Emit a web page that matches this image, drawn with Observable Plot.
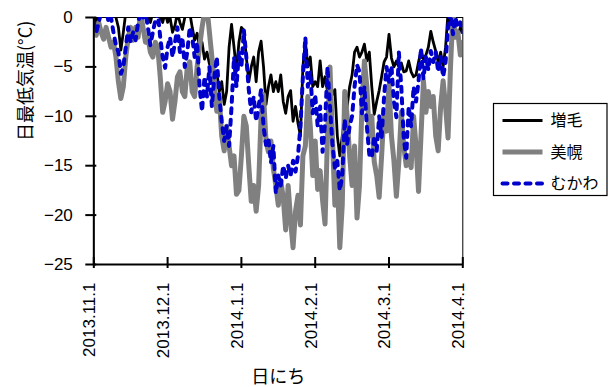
<!DOCTYPE html>
<html>
<head>
<meta charset="utf-8">
<script src="https://cdn.jsdelivr.net/npm/d3@7"></script>
<script src="https://cdn.jsdelivr.net/npm/@observablehq/plot@0.6"></script>
<style>
  html, body { margin: 0; padding: 0; background: #fff; }
  #chart { width: 611px; height: 387px; }
</style>
</head>
<body>
<div id="chart"></div>
<script>
// Daily minimum temperature (°C), 2013-11-01 .. 2014-04-01, one value per day
const seriesNames = ["増毛", "美幌", "むかわ"];
const seriesColors = ["#000000", "#808080", "#0000cc"];

const tickDays = [0, 30, 60, 90, 120, 150];
const tickLabels = ["2013.11.1", "2013.12.1", "2014.1.1", "2014.2.1", "2014.3.1", "2014.4.1"];
const yTicks = [0, -5, -10, -15, -20, -25];

const mashike = [
  0.5, -0.5, 1, 0.5, 1.5, 0.5, 1, 2, 0.5, 0, -1, -3.3, -1.5, 0.5, 1.5, 1, 2, 1, 0.5, 1.5,
  0.5, 1, 0, -0.5, 0.5, 1, 0.5, 0, -0.5, 0.5, -0.5, 0, -1.5, -0.8, 0.5, -0.5, -1.2, 0, 1, 0.5,
  -1, -2.3, -1.6, -3, -2.5, -4.2, -3.5, -4.7, -4, -5.5, -5.5, -7.5, -6.5, -8.8, -7.5, -3, -0.7, -3, -5.4, -2.5,
  -1, -1.3, -4, -6.5, -5, -4, -6.5, -3.5, -2.4, -5, -8.8, -7, -5.8, -7.5, -6.5, -7.5, -5.8, -8.5, -9.7, -8,
  -7.4, -10.5, -9, -10.7, -12, -5, -2.4, -5, -4, -7, -6.5, -7, -4.4, -7, -6, -7.5, -7, -7.8, -7.3, -12,
  -14, -12, -10, -9, -7, -5.8, -3.5, -3, -4, -3.5, -2.7, -4.4, -3.5, -7, -9.8, -8.5, -7.4, -6, -4.5, -4,
  -1.7, -4.1, -5, -4.4, -5, -4.6, -5.5, -5.4, -4.4, -5.5, -6, -5.8, -4.5, -3.4, -4.2, -3.8, -3, -1.4, -2.5, -3.4,
  -4.5, -3.5, -5, -3, 0.5, -0.5, 1, -1, -2, -1, -1.5
];

const bihoro = [
  -1, -1.8, -0.5, -1.5, -2.2, -1, -2, -3, -2.5, -4, -6.5, -8.2, -7, -4, -2, -1, -2.3, -1, -2, 0.5,
  -1, -2.5, -2, -3.5, -4, -2.5, -3, -6, -9.6, -8.5, -6.7, -7.5, -10.3, -8.5, -6, -5.5, -7.5, -8, -5, -4.5,
  -7.5, -8, -5, -3, -1, 0.5, 1, -1.5, -4, -7, -9.5, -8, -12, -13.5, -11, -13, -15, -14, -17.9, -17.5,
  -14, -10, -11, -15, -18.6, -17, -19.6, -17, -10, -7.8, -12.5, -13.6, -12.5, -15.3, -17, -19, -16.5, -18.2, -21.5, -17,
  -20.5, -23.3, -19.6, -18, -21, -14, -13, -8, -11, -16, -12.5, -17.4, -15.5, -18.5, -20.9, -12, -5, -12, -19, -16,
  -23.3, -19, -7.5, -10, -14, -17, -13, -20.3, -17, -9, -4.4, -7, -12, -10, -14.6, -16, -18.2, -14, -9.4, -11.5,
  -6.8, -12, -14.5, -18.1, -14.6, -9.6, -13, -15, -14, -15.2, -10, -13, -17.6, -12, -6.4, -9.6, -7.5, -9, -8, -12,
  -13.5, -9, -6.4, -9, -12.2, -5, 0.5, -2, -1.5, -3.8, -2.5
];

const mukawa = [
  -0.5, -1.5, -0.5, 0.5, 0.5, 1, -0.5, 0, -1.5, -2.8, -3.5, -5.7, -5, -3, -1, -2.5, -1.5, -2.3, -0.5, 0.5,
  0, 0.5, -1, -2.8, -1.5, -0.3, 0.5, -2, -4, -5.1, -3, -2, -4, -2.5, -1, -3.5, -2, -5, -3.5, -1,
  -2, -4, -2.5, -7, -9.5, -6, -8, -5, -9, -6, -4, -8, -10.5, -12.5, -11, -13, -9, -4, -7, -3.5,
  -5, -1.3, -4, -7.3, -9.6, -8, -10.5, -9, -7.3, -11, -12.9, -12.3, -14.7, -13, -17.8, -16, -17, -15, -16.3, -15,
  -16, -14.5, -15.6, -14, -11, -6, -2, -7, -5.5, -9.7, -7.8, -11, -9, -13.6, -10.7, -5, -9, -12.8, -15.2, -14.5,
  -17.5, -16, -10.3, -12.8, -11, -10, -7, -4.8, -5.5, -9.7, -7, -11, -13.9, -14.2, -12, -13.5, -10, -12.2, -8, -5,
  -6.5, -4.9, -8.5, -10.1, -3.5, -7, -12.2, -14.2, -9, -11, -7, -8.5, -6.5, -3.1, -6.2, -4, -5.3, -3.4, -4.5, -3.5,
  -5.5, -4, -6, -4.5, -1, 0.5, -1.7, 0, -1, -0.5, -1.5
];

const seriesData = [mashike, bihoro, mukawa];

// layout
const W = 611, H = 387;
const M = { top: 17, right: 148.7, bottom: 123, left: 93.3 };
const innerW = W - M.left - M.right;
const innerH = H - M.top - M.bottom;

const latin = "'Liberation Sans', Arial, sans-serif";
const cjk = "'Noto Sans CJK JP', sans-serif";

// per-series line styles (width, dash)
const lineStyles = [
  { strokeWidth: 2.8 },
  { strokeWidth: 5 },
  { strokeWidth: 4, strokeDasharray: "5,6.5" }
];

const lineMarks = seriesData.map((vals, k) =>
  Plot.lineY(vals, {
    x: (d, i) => i,
    y: d => d,
    stroke: seriesColors[k],
    strokeLinejoin: "round",
    strokeLinecap: "round",
    clip: true,
    ...lineStyles[k]
  })
);

const chart = Plot.plot({
  width: W,
  height: H,
  marginTop: M.top,
  marginRight: M.right,
  marginBottom: M.bottom,
  marginLeft: M.left,
  style: { fontFamily: latin, fontSize: "17px", color: "#000", background: "#fff", overflow: "visible" },
  x: { domain: [0, 150], axis: null },
  y: { domain: [-25, 0], axis: null },
  marks: [
    Plot.frame({ stroke: "#000", strokeWidth: 1 }),
    ...lineMarks,
    Plot.ruleX([0], { stroke: "#000", strokeWidth: 2 }),
    Plot.ruleY([-25], { stroke: "#000", strokeWidth: 2 }),
    Plot.axisY({
      ticks: yTicks,
      tickSize: 8,
      tickPadding: 13,
      label: null,
      strokeWidth: 2,
      fontSize: 17,
      fontFamily: latin
    }),
    Plot.tickY(yTicks, { y: d => d, insetRight: innerW - 3, stroke: "#000", strokeWidth: 2 }),
    // x tick marks (outer part)
    Plot.axisX({
      ticks: tickDays,
      tickFormat: () => "",
      tickSize: 4,
      label: null,
      strokeWidth: 2
    }),
    // x tick labels, rotated
    Plot.axisX({
      ticks: tickDays,
      tickFormat: d => tickLabels[tickDays.indexOf(d)],
      tickRotate: -90,
      tickSize: 0,
      tickPadding: 17,
      label: null,
      dx: -4,
      dy: 1,
      fontSize: 17,
      fontFamily: latin
    }),
    // x tick marks (inner part)
    Plot.tickX(tickDays, { x: d => d, insetTop: innerH - 7, stroke: "#000", strokeWidth: 2 }),
    Plot.text(["日最低気温(°C)"], {
      text: d => d, frameAnchor: "left", rotate: -90, dx: -68,
      fontSize: 18, fontFamily: cjk, fill: "#000"
    }),
    Plot.text(["日にち"], {
      text: d => d, frameAnchor: "bottom", dy: 118,
      fontSize: 18, fontFamily: cjk, fill: "#000"
    })
  ]
});

document.getElementById("chart").append(chart);

// legend box on the right
const svg = d3.select(chart);
const lg = svg.append("g").attr("class", "legend").attr("text-anchor", "start");
const box = { x: 493.5, y: 103.5, w: 113.5, h: 92 };
lg.append("rect")
  .attr("x", box.x).attr("y", box.y).attr("width", box.w).attr("height", box.h)
  .attr("fill", "#fff").attr("stroke", "#000").attr("stroke-width", 1.2);
seriesNames.forEach((name, k) => {
  const cy = box.y + 17 + k * 31.5;
  const ln = lg.append("line")
    .attr("x1", box.x + 9).attr("x2", box.x + 49)
    .attr("y1", cy).attr("y2", cy)
    .attr("stroke", seriesColors[k])
    .attr("stroke-width", lineStyles[k].strokeWidth)
    .attr("stroke-linecap", lineStyles[k].strokeDasharray ? "round" : "butt");
  if (lineStyles[k].strokeDasharray) ln.attr("stroke-dasharray", lineStyles[k].strokeDasharray);
  lg.append("text")
    .attr("x", box.x + 57).attr("y", cy)
    .attr("dy", "0.35em")
    .attr("text-anchor", "start")
    .attr("font-family", cjk).attr("font-size", 16)
    .attr("fill", "#000")
    .text(name);
});
</script>
</body>
</html>
